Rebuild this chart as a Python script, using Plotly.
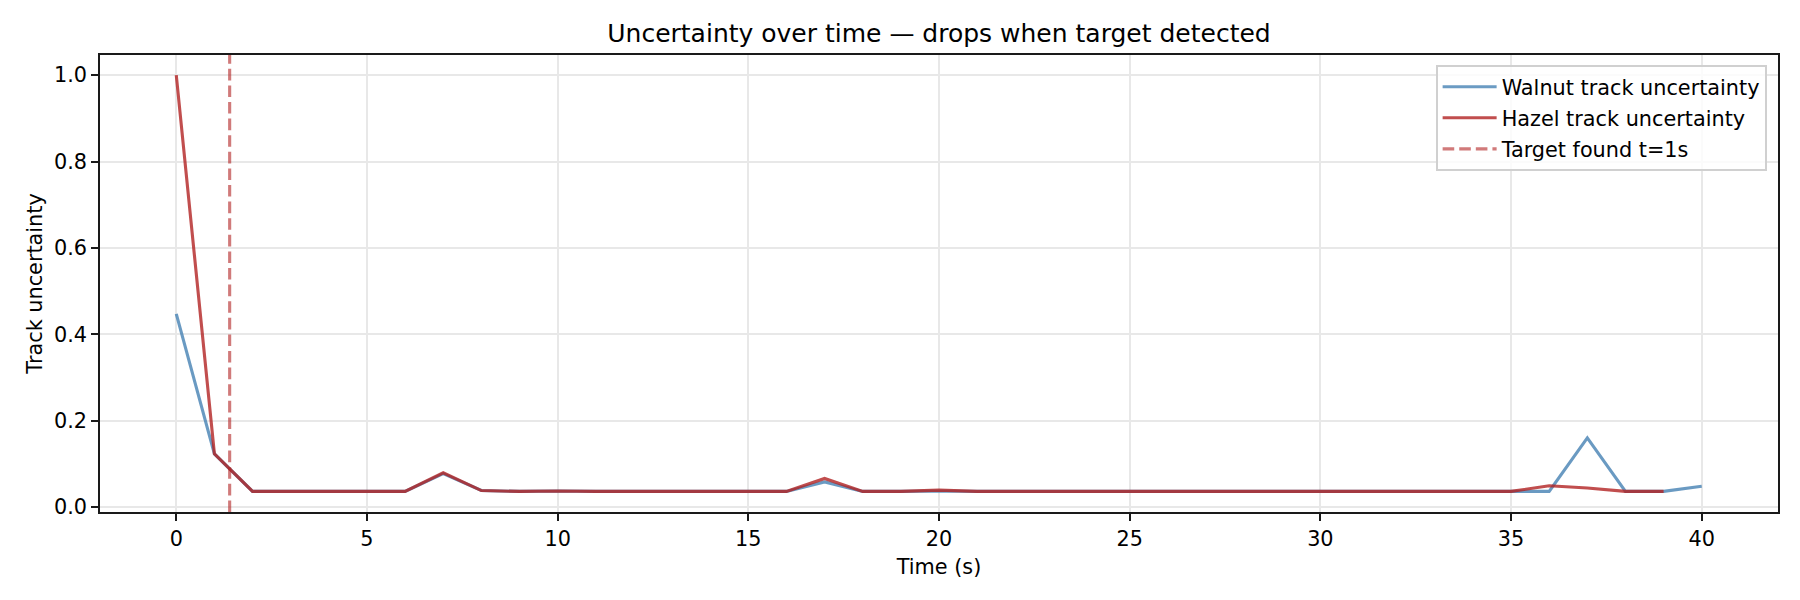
import plotly.graph_objects as go

# time steps (s)
t_walnut = list(range(0, 41))
t_hazel = list(range(0, 40))

walnut_unc = [0.447, 0.123, 0.036, 0.036, 0.036, 0.036, 0.036, 0.077, 0.038, 0.036,
              0.037, 0.036, 0.036, 0.036, 0.036, 0.036, 0.036, 0.058, 0.036, 0.036,
              0.037, 0.036, 0.036, 0.036, 0.036, 0.036, 0.036, 0.036, 0.036, 0.036,
              0.036, 0.036, 0.036, 0.036, 0.036, 0.036, 0.036, 0.160, 0.036, 0.036,
              0.048]
hazel_unc = [1.0, 0.123, 0.036, 0.036, 0.036, 0.036, 0.036, 0.079, 0.038, 0.036,
             0.037, 0.036, 0.036, 0.036, 0.036, 0.036, 0.036, 0.066, 0.036, 0.036,
             0.039, 0.036, 0.036, 0.036, 0.036, 0.036, 0.036, 0.036, 0.036, 0.036,
             0.036, 0.036, 0.036, 0.036, 0.036, 0.036, 0.049, 0.044, 0.036, 0.036]

found_t = 1.4
y_lo, y_hi = -0.0117, 1.0467

font = "DejaVu Sans"

fig = go.Figure()
fig.add_trace(go.Scatter(x=t_walnut, y=walnut_unc, mode="lines",
                         name="Walnut track uncertainty", legendgroup="w",
                         line=dict(color="steelblue", width=3.1), opacity=0.8))
fig.add_trace(go.Scatter(x=t_hazel, y=hazel_unc, mode="lines",
                         name="Hazel track uncertainty", legendgroup="h",
                         line=dict(color="firebrick", width=3.1), opacity=0.8))
fig.add_trace(go.Scatter(x=[found_t, found_t], y=[y_lo, y_hi], mode="lines",
                         name="Target found t=1s", legendgroup="f",
                         line=dict(color="firebrick", width=3.1, dash="11.6px,5px"),
                         opacity=0.6))

axis_style = dict(showline=True, linecolor="#1a1a1a", linewidth=1.7, mirror=True,
                  ticks="outside", ticklen=7, tickwidth=1.7, tickcolor="#1a1a1a",
                  showgrid=True, gridcolor="#e8e8e8", gridwidth=1.7, zeroline=False,
                  tickfont=dict(family=font, size=20.8, color="black"))

fig.update_xaxes(range=[-2, 42], dtick=5, tick0=0,
                 title=dict(text="Time (s)", font=dict(family=font, size=20.8, color="black"),
                            standoff=10),
                 **axis_style)
fig.update_yaxes(range=[y_lo, y_hi], dtick=0.2, tick0=0, tickformat=".1f",
                 title=dict(text="Track uncertainty", font=dict(family=font, size=20.8, color="black"),
                            standoff=6),
                 **axis_style)

fig.update_layout(
    width=1800, height=600,
    margin=dict(l=100, r=22, t=55, b=88),
    plot_bgcolor="white", paper_bgcolor="white",
    font=dict(family=font, color="black"),
    title=dict(text="Uncertainty over time — drops when target detected",
               x=0.5, xref="paper", y=1 - 33 / 600, yanchor="middle",
               font=dict(family=font, size=25, color="black")),
    legend=dict(x=0.9934, y=0.978, xanchor="right", yanchor="top",
                traceorder="grouped", tracegroupgap=1, itemwidth=54,
                bgcolor="rgba(255,255,255,0.8)", bordercolor="#d0d0d0", borderwidth=1.7,
                font=dict(family=font, size=20.8, color="black")),
    showlegend=True,
)

fig.write_html("out.html", config={"displayModeBar": False},
               post_script="document.body.style.margin='0';")
